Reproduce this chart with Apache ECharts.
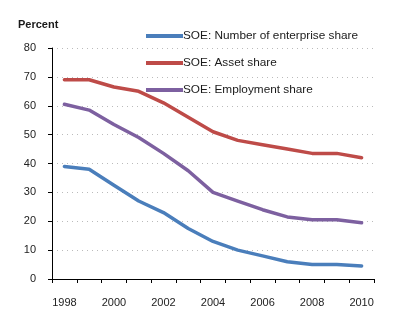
<!DOCTYPE html>
<html>
<head>
<meta charset="utf-8">
<script src="https://cdn.jsdelivr.net/npm/echarts@6/dist/echarts.min.js"></script>
<style>
html,body{margin:0;padding:0;background:#fff;}
#c{width:400px;height:321px;}
</style>
</head>
<body>
<div id="c"></div>
<script>
var years = ['1998','1999','2000','2001','2002','2003','2004','2005','2006','2007','2008','2009','2010'];
var enterpriseShare = [39, 38, 32.5, 27, 23, 17.5, 13, 10, 8, 6, 5, 5, 4.5];
var assetShare = [69, 69, 66.5, 65, 61, 56, 51, 48, 46.5, 45, 43.5, 43.5, 42];
var employmentShare = [60.5, 58.5, 53.5, 49, 43.5, 37.5, 30, 27, 24, 21.5, 20.5, 20.5, 19.5];
var seriesNames = ['SOE: Number of enterprise share', 'SOE: Asset share', 'SOE: Employment share'];
var colors = ['#4a7ebb', '#be4b48', '#7d60a0'];

var font = 'Liberation Sans, Arial, sans-serif';
var chart = echarts.init(document.getElementById('c'), null, {renderer: 'canvas'});
function mk(name, data, color) {
  return {
    name: name, type: 'line', data: data, symbol: 'none',
    lineStyle: {width: 3.5, color: color, cap: 'round', join: 'round'},
    itemStyle: {color: color},
    animation: false
  };
}
chart.setOption({
  animation: false,
  grid: {left: 52, right: 26, top: 48, bottom: 42, containLabel: false},
  title: {
    text: 'Percent', left: 13, top: 14,
    textStyle: {fontFamily: font, fontSize: 11, fontWeight: 'bold', color: '#1a1a1a'}
  },
  legend: {
    orient: 'vertical', left: 141, top: 24,
    icon: 'rect', itemWidth: 37, itemHeight: 4, itemGap: 13,
    textStyle: {fontFamily: font, fontSize: 11.8, color: '#1a1a1a', lineHeight: 14, padding: [0, 0, 0, -5]},
    data: seriesNames
  },
  xAxis: {
    type: 'category', data: years, boundaryGap: true,
    axisLine: {lineStyle: {color: '#000', width: 1}},
    axisTick: {show: true, interval: 0, length: 4, lineStyle: {color: '#000'}},
    axisLabel: {interval: 1, margin: 18, fontFamily: font, fontSize: 11, color: '#222'},
    splitLine: {show: false}
  },
  yAxis: {
    type: 'value', min: 0, max: 80, interval: 10,
    axisLine: {show: true, lineStyle: {color: '#000', width: 1}},
    axisTick: {show: true, length: 4, lineStyle: {color: '#000'}},
    axisLabel: {margin: 16, fontFamily: font, fontSize: 11, color: '#222'},
    splitLine: {show: true, lineStyle: {color: '#bbb', type: [1, 4], width: 1}}
  },
  series: [
    mk(seriesNames[0], enterpriseShare, colors[0]),
    mk(seriesNames[1], assetShare, colors[1]),
    mk(seriesNames[2], employmentShare, colors[2])
  ]
});
</script>
</body>
</html>
